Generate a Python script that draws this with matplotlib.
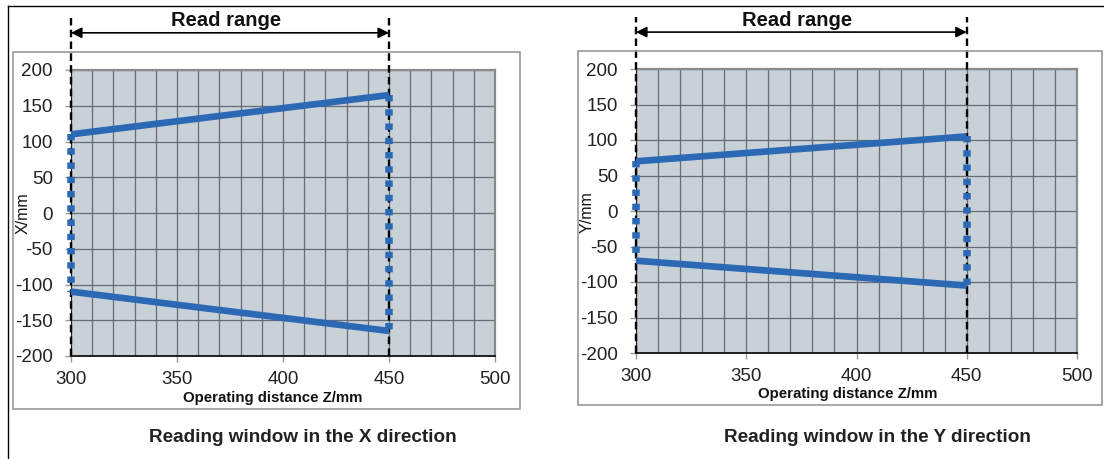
import matplotlib.pyplot as plt
from matplotlib.patches import Rectangle
from matplotlib.lines import Line2D

plt.rcParams['font.family'] = ['Liberation Sans', 'DejaVu Sans']
plt.rcParams['axes.unicode_minus'] = False

# data
z_range = [300, 450]
x_upper = [110, 165]
x_lower = [-110, -165]
y_upper = [70, 105]
y_lower = [-70, -105]
x_ticks = [300, 350, 400, 450, 500]
y_ticks = [-200, -150, -100, -50, 0, 50, 100, 150, 200]
captions = ["Reading window in the X direction", "Reading window in the Y direction"]
ylabels = ["X/mm", "Y/mm"]

blue = '#2b69b5'
bg = '#c8d0d8'

fig = plt.figure(figsize=(11.04, 4.59), dpi=100)
W, H = 1104, 459


def fx(px):
    return px / W


def fy(py):
    return 1 - py / H


# outer frame lines
fig.add_artist(Line2D([fx(8), 1], [fy(6), fy(6)], color='black', lw=1))
fig.add_artist(Line2D([fx(8), fx(8)], [fy(6), 0], color='black', lw=1))

panels = [
    dict(ax=(71, 70, 495, 356), box=(13, 52, 520, 409), up=x_upper, lo=x_lower,
         xl=(273, 398), yl=(23, 213), cap=(303, 438), rr=(226, 20)),
    dict(ax=(636, 69, 1077, 353), box=(578, 51, 1102, 405), up=y_upper, lo=y_lower,
         xl=(848, 394), yl=(587, 212), cap=(877, 438), rr=(797, 20)),
]

for i, p in enumerate(panels):
    l, t, r, b = p['ax']
    bl, bt, br, bb = p['box']
    fig.add_artist(Rectangle((fx(bl), fy(bb)), (br - bl) / W, (bb - bt) / H,
                             fill=False, edgecolor='#9a9a9a', lw=1.2))
    ax = fig.add_axes([fx(l), fy(b), (r - l) / W, (b - t) / H])
    ax.set_facecolor(bg)
    ax.set_xlim(300, 500)
    ax.set_ylim(-200, 200)
    ax.set_xticks(x_ticks)
    ax.set_yticks(y_ticks)
    ax.set_xticks(range(300, 501, 10), minor=True)
    ax.grid(True, which='both', axis='x', color='#666c72', lw=0.9)
    ax.grid(True, which='major', axis='y', color='#666c72', lw=0.9)
    ax.set_axisbelow(True)
    ax.tick_params(which='minor', length=0)
    ax.tick_params(which='major', length=4, width=1, color='#999999',
                   labelsize=13.5, labelcolor='#222222')
    ax.tick_params(axis='y', pad=9)
    ax.tick_params(axis='x', pad=7)
    for s in ['top', 'right']:
        ax.spines[s].set_color('#8a8a8a')
        ax.spines[s].set_linewidth(1.6)
    ax.spines['bottom'].set_color('#111111')
    ax.spines['bottom'].set_linewidth(1.3)
    ax.spines['left'].set_color('#222222')

    # window edges
    ax.plot(z_range, p['up'], color=blue, lw=4.8, solid_capstyle='butt', zorder=4)
    ax.plot(z_range, p['lo'], color=blue, lw=4.8, solid_capstyle='butt', zorder=4)
    for k in range(2):
        ax.plot([z_range[k], z_range[k]], [p['up'][k], p['lo'][k]], color=blue,
                lw=5.4, linestyle=(0, (0.85, 1.05)), dash_capstyle='butt', zorder=5,
                clip_on=False)

    # read range markers
    for z in z_range:
        ax.plot([z, z], [-200, 273], color='black', lw=1.7, linestyle=(0, (3.2, 1.8)),
                clip_on=False, zorder=3)
    ax.annotate('', xy=(z_range[0], 252), xytext=(z_range[1], 252),
                arrowprops=dict(arrowstyle='<|-|>', color='black', lw=1.2,
                                shrinkA=0, shrinkB=0, mutation_scale=16),
                annotation_clip=False)

    fig.text(fx(p['rr'][0]), fy(p['rr'][1]), 'Read range', ha='center', va='center',
             fontsize=14.5, fontweight='bold', color='#111111')
    fig.text(fx(p['xl'][0]), fy(p['xl'][1]), 'Operating distance Z/mm', ha='center',
             va='center', fontsize=10.8, fontweight='bold', color='#111111')
    fig.text(fx(p['yl'][0]), fy(p['yl'][1]), ylabels[i], ha='center', va='center',
             fontsize=11.5, rotation=90, color='#111111')
    fig.text(fx(p['cap'][0]), fy(p['cap'][1]), captions[i], ha='center', va='center',
             fontsize=13.6, fontweight='bold', color='#222222')

fig.savefig('out.png', dpi=100)
